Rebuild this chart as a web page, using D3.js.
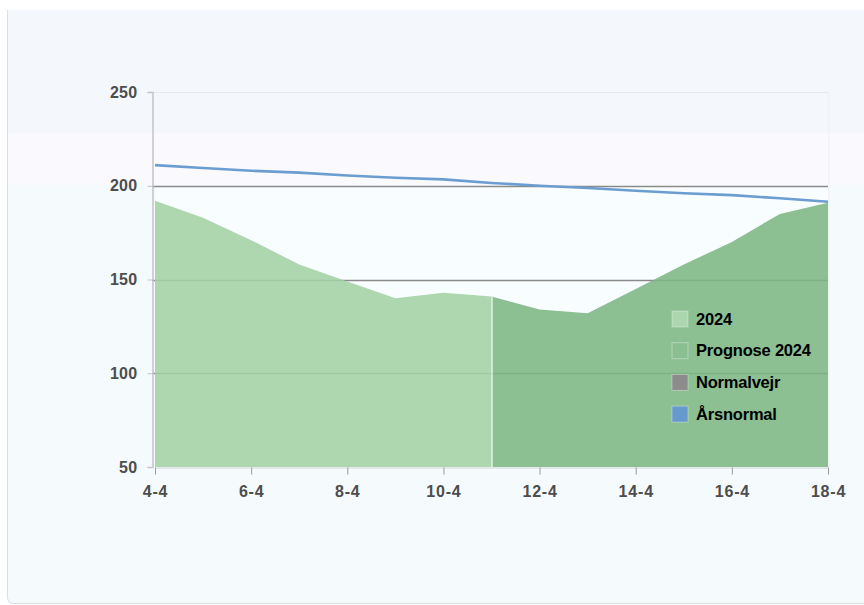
<!DOCTYPE html>
<html>
<head>
<meta charset="utf-8">
<script src="https://cdn.jsdelivr.net/npm/d3@7"></script>
<style>
  html, body { margin: 0; padding: 0; background: #ffffff; }
  svg { display: block; }
  .tick text { font-family: "Liberation Sans", Arial, sans-serif; font-weight: bold; }
</style>
</head>
<body>
<svg id="chart" width="864" height="605"></svg>
<script>
// Days of April shown on the x axis
const days = [4, 5, 6, 7, 8, 9, 10, 11, 12, 13, 14, 15, 16, 17, 18];
// Measured values 2024 (4-4 .. 11-4)
const days2024 = [4, 5, 6, 7, 8, 9, 10, 11];
const values2024 = [192, 183, 171, 158, 149, 140, 143, 141];
// Forecast 2024 (11-4 .. 18-4)
const daysPrognose = [11, 12, 13, 14, 15, 16, 17, 18];
const valuesPrognose = [141, 134, 132, 145, 158, 170, 185, 191];
// Annual normal
const valuesArsnormal = [211, 209.5, 208, 207, 205.5, 204.3, 203.4, 201.5, 200, 198.8, 197.3, 196, 195, 193.3, 191.5];
// Axis ticks
const xTickDays = [4, 6, 8, 10, 12, 14, 16, 18];
const yTicks = [50, 100, 150, 200, 250];
const gridValues = [100, 150, 200];
// Legend entries
const legendLabels = ["2024", "Prognose 2024", "Normalvejr", "Årsnormal"];
const legendColors = ["#acd6ae", "#8bbf92", "#8c8c8c", "#6699cc"];

const svg = d3.select("#chart");

const x = d3.scaleLinear().domain([4, 18]).range([155, 828]);
const y = d3.scaleLinear().domain([50, 250]).range([467, 92]);

// Panel background
svg.append("path")
  .attr("d", "M7,10 H864 V604 H14 Q7,604 7,597 Z")
  .attr("fill", "#f4f8fc");
svg.append("rect").attr("x", 8).attr("y", 133).attr("width", 856).attr("height", 52).attr("fill", "#f9f9fe");
svg.append("rect").attr("x", 8).attr("y", 185).attr("width", 856).attr("height", 418).attr("fill", "#f5fafd");
svg.append("path")
  .attr("d", "M7.5,10 V597 Q7.5,603.5 14,603.5 H864")
  .attr("fill", "none").attr("stroke", "#d9dfe5").attr("stroke-width", 1);

// Plot area background below the 200 line
svg.append("rect")
  .attr("x", x(4)).attr("y", y(200))
  .attr("width", x(18) - x(4)).attr("height", y(50) - y(200))
  .attr("fill", "#f8feff");
// Right edge of the plot area
svg.append("line")
  .attr("x1", x(18) + 1).attr("x2", x(18) + 1).attr("y1", y(250)).attr("y2", y(50))
  .attr("stroke", "#efeef2").attr("stroke-width", 1);

// Grid lines
svg.append("line")
  .attr("x1", 152).attr("x2", x(18)).attr("y1", y(250) + 0.5).attr("y2", y(250) + 0.5)
  .attr("stroke", "#e6e9ee").attr("stroke-width", 1);
svg.append("g").selectAll("line")
  .data(gridValues).join("line")
  .attr("x1", 152).attr("x2", x(18))
  .attr("y1", d => Math.round(y(d)) + 0.5).attr("y2", d => Math.round(y(d)) + 0.5)
  .attr("stroke", "#8a8a8a").attr("stroke-width", 1.3);

// Areas
const area = d3.area()
  .x(d => x(d[0]))
  .y0(y(50))
  .y1(d => y(d[1]));

svg.append("path")
  .datum(days2024.map((d, i) => [d, values2024[i]]))
  .attr("d", area)
  .attr("fill", "#a3d1a4").attr("fill-opacity", 0.88);

svg.append("path")
  .datum(daysPrognose.map((d, i) => [d, valuesPrognose[i]]))
  .attr("d", area)
  .attr("fill", "#7cb683").attr("fill-opacity", 0.88);

// Seam between measured and forecast
svg.append("line")
  .attr("x1", x(11) + 0.5).attr("x2", x(11) + 0.5)
  .attr("y1", y(values2024[values2024.length - 1])).attr("y2", y(50))
  .attr("stroke", "#e4f1e4").attr("stroke-width", 1.5);

// Annual normal line
const line = d3.line()
  .x((d, i) => x(days[i]))
  .y(d => y(d));
svg.append("path")
  .datum(valuesArsnormal)
  .attr("d", line)
  .attr("fill", "none")
  .attr("stroke", "#6b9dd0")
  .attr("stroke-width", 2.6);

// Y axis
const yAxis = svg.append("g")
  .attr("transform", "translate(152.5,0)")
  .call(d3.axisLeft(y).tickValues(yTicks).tickSize(5).tickPadding(10));
yAxis.select(".domain").attr("stroke", "#c4c4c4").attr("stroke-width", 1.5);
yAxis.selectAll(".tick line").attr("stroke", "#c4c4c4");
yAxis.selectAll(".tick text")
  .attr("fill", "#4d4d4d").attr("font-size", 16).attr("letter-spacing", 0.3);

// X axis
const xAxis = svg.append("g")
  .attr("transform", `translate(0,${y(50) + 0.5})`)
  .call(d3.axisBottom(x).tickValues(xTickDays).tickFormat(d => `${d}-4`).tickSize(7).tickPadding(11).tickSizeOuter(0));
xAxis.select(".domain").attr("stroke", "#d2d6da").attr("stroke-width", 1.2);
xAxis.selectAll(".tick line").attr("stroke", "#9a9a9a");
xAxis.selectAll(".tick text")
  .attr("fill", "#4d4d4d").attr("font-size", 16).attr("letter-spacing", 0.8);

// Legend
const legend = svg.append("g").attr("transform", "translate(672,311)");
const items = legend.selectAll("g").data(legendLabels).join("g")
  .attr("transform", (d, i) => `translate(0,${i * 31.7})`);
items.append("rect")
  .attr("width", 16).attr("height", 16)
  .attr("fill", (d, i) => legendColors[i])
  .attr("stroke", "#ffffff").attr("stroke-opacity", 0.35);
items.append("text")
  .attr("x", 24).attr("y", 13.5)
  .attr("font-family", "Liberation Sans, Arial, sans-serif")
  .attr("font-weight", "bold").attr("font-size", 16.5)
  .attr("letter-spacing", -0.2)
  .attr("fill", "#000")
  .text(d => d);
</script>
</body>
</html>
